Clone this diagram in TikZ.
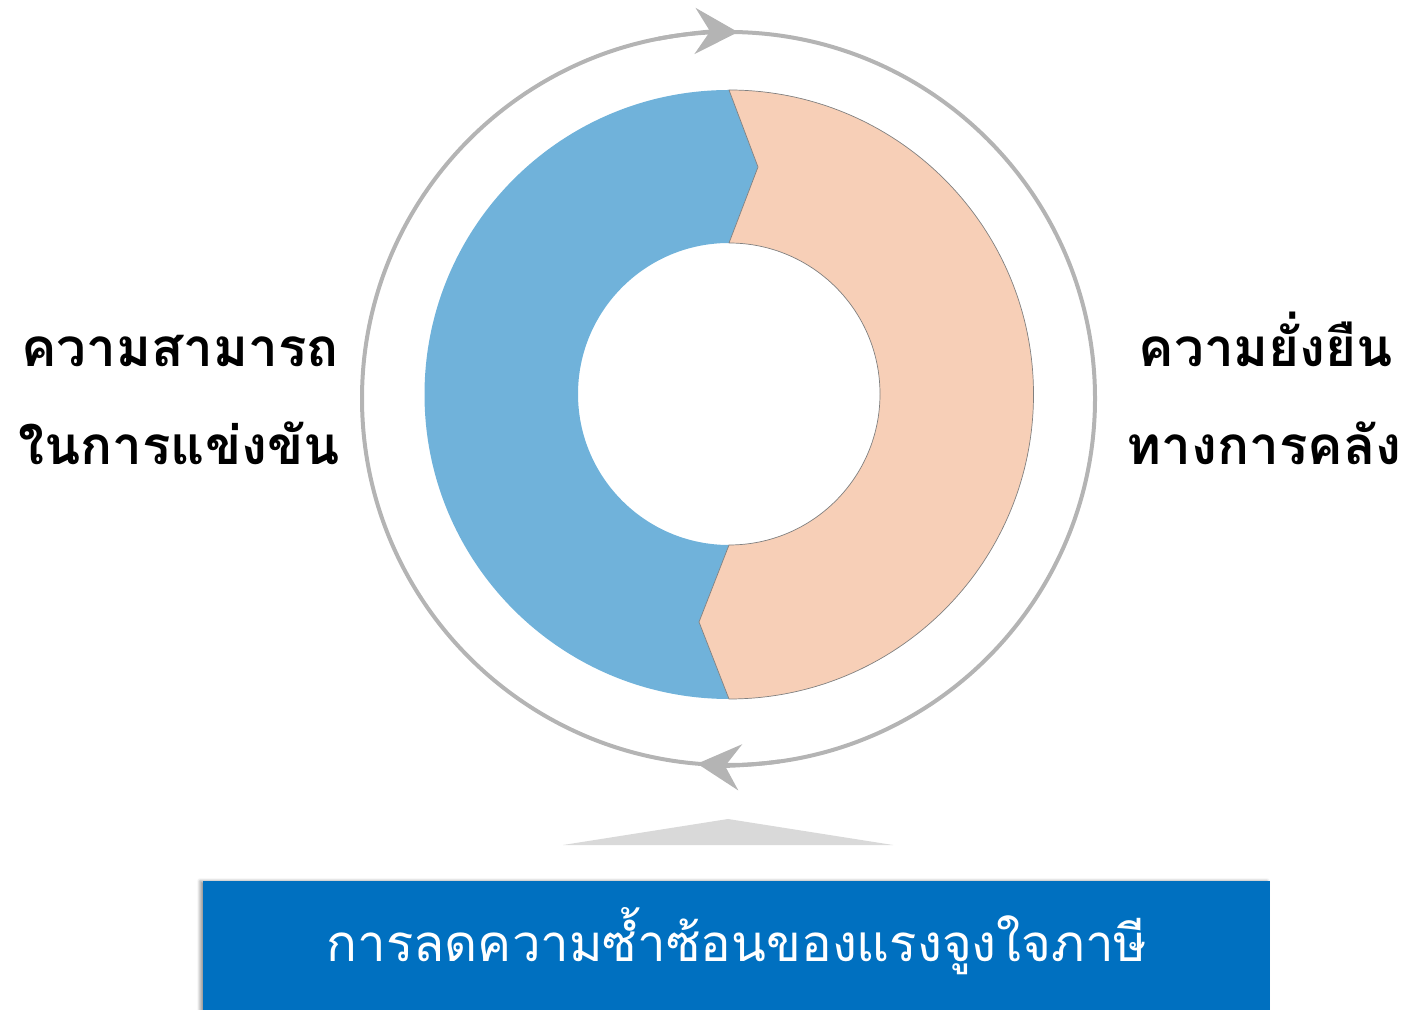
\documentclass[tikz,border=0pt]{standalone}
\usepackage{fontspec}
\newfontfamily\thaifont[Script=Thai]{Loma}
\usetikzlibrary{arrows.meta,shadows.blur}
\definecolor{ringgray}{RGB}{180,180,180}
\definecolor{blueseg}{RGB}{112,178,218}
\definecolor{orangeseg}{RGB}{247,207,183}
\definecolor{boxblue}{RGB}{0,112,192}
\definecolor{trigray}{RGB}{217,217,217}
\tikzset{
  ring/.style={draw=ringgray,line width=4pt},
  ringarrow/.style={ring,-{Stealth[length=43pt,width=46pt,inset=15pt]}},
  sidelabel/.style={font=\thaifont\bfseries\fontsize{53}{64}\selectfont,text=black,inner sep=0pt,anchor=base},
  boxlabel/.style={font=\thaifont\fontsize{51}{62}\selectfont,text=white,inner sep=0pt,anchor=base}
}
\begin{document}
\begin{tikzpicture}[x=1pt,y=1pt]
\useasboundingbox (0,0) rectangle (1412,1009);
% outer ring
\coordinate (rc) at (728.5,610.5);
\draw[ring] (rc) circle[radius=366.5];
\draw[ringarrow] (rc) ++(101:366.5) arc[start angle=101,end angle=88.5,radius=366.5];
\draw[ringarrow] (rc) ++(-82:366.5) arc[start angle=-82,end angle=-94.9,radius=366.5];
% donut
\coordinate (dc) at (729,614.5);
\fill[blueseg] (729,919) arc[start angle=90,end angle=270,radius=304.5]
  -- (699,387) -- (729,464) arc[start angle=270,end angle=90,radius=151]
  -- (758,842) -- cycle;
\filldraw[fill=orangeseg,draw=gray,line width=0.7pt] (729,919) arc[start angle=90,end angle=-90,radius=304.5]
  -- (699,387) -- (729,464) arc[start angle=-90,end angle=90,radius=151]
  -- (758,842) -- cycle;
% labels
\node[sidelabel] (left1) at (180,642) {ความสามารถ};
\node[sidelabel] (left2) at (179,544) {ในการแข่งขัน};
\node[sidelabel] (right1) at (1266,642) {ความยั่งยืน};
\node[sidelabel] (right2) at (1264,544) {ทางการคลัง};
% triangle
\fill[trigray] (563,164) -- (728,190) -- (893,164) -- cycle;
% box
\fill[boxblue,blur shadow={shadow xshift=-3pt,shadow yshift=0pt,shadow blur steps=6,shadow blur radius=3pt}] (203,-10) rectangle (1270,128);
\node[boxlabel] (bottom) at (737,48) {การลดความซ้ำซ้อนของแรงจูงใจภาษี};
\end{tikzpicture}
\end{document}
